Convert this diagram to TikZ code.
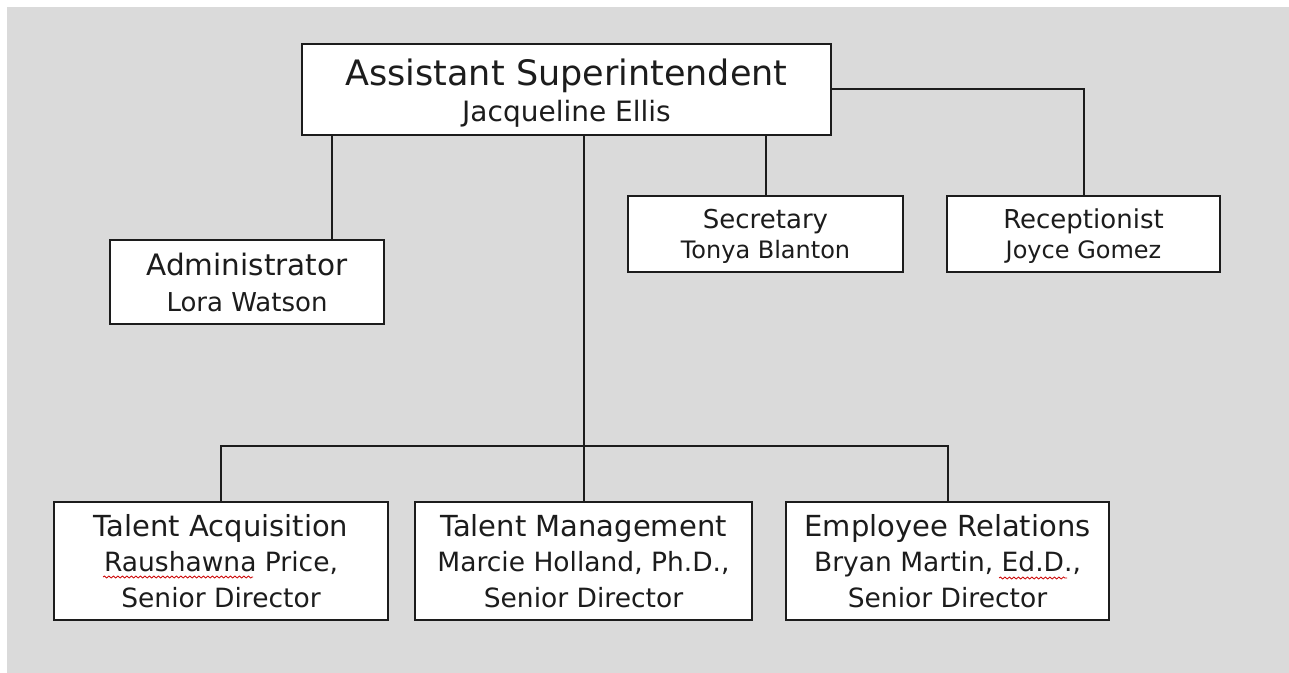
\documentclass[tikz,border=0pt]{standalone}
\usepackage{fontspec}
\setmainfont{DejaVu Sans}
\usetikzlibrary{positioning,decorations.pathmorphing}
\definecolor{bgray}{RGB}{218,218,218}
\definecolor{ink}{RGB}{28,28,28}
\newcommand{\fs}[2]{\fontsize{#1bp}{#2bp}\selectfont}
\tikzset{
    pbox/.style={rectangle, draw=ink, line width=1.8bp, fill=white, text=ink, align=center, inner sep=0},
    link/.style={draw=ink, line width=2bp},
    typo/.style={draw=red!80!black, line width=0.8bp, decorate, decoration={snake, amplitude=1bp, segment length=4.5bp}},
  }

\begin{document}
\begin{tikzpicture}[x=1bp, y=-1bp]
  \fill[white] (0,0) rectangle (1289,673);
  \fill[bgray] (7,7) rectangle (1289,673);

  \node (sup) [pbox, minimum width=529bp, minimum height=91bp, font=\fs{28}{36}] at (566.5,89.5)
    {{\fs{35}{36}\rule{0pt}{34bp}Assistant Superintendent}\\Jacqueline Ellis};
  \node (adm) [pbox, minimum width=274bp, minimum height=84bp, font=\fs{26}{36}] at (247,282)
    {{\fs{29.5}{36}Administrator}\\Lora Watson};
  \node (sec) [pbox, minimum width=275bp, minimum height=76bp, font=\fs{24}{30}] at (765.5,234)
    {{\fs{26}{30}\rule{0pt}{24bp}Secretary}\\Tonya Blanton};
  \node (rec) [pbox, minimum width=273bp, minimum height=76bp, font=\fs{24}{30}] at (1083.5,234)
    {{\fs{26}{30}\rule{0pt}{24bp}Receptionist}\\Joyce Gomez};

  \node (ta) [pbox, minimum width=334bp, minimum height=118bp, font=\fs{26.5}{35.5}] at (221,561)
    {{\fs{29}{35.5}Talent Acquisition}\\Raushawna Price,\\Senior Director};
  \node (tm) [pbox, minimum width=337bp, minimum height=118bp, font=\fs{26.5}{35.5}] at (583.5,561)
    {{\fs{29}{35.5}Talent Management}\\Marcie Holland, Ph.D.,\\Senior Director};
  \node (er) [pbox, minimum width=323bp, minimum height=118bp, font=\fs{26.5}{35.5}] at (947.5,561)
    {{\fs{29}{35.5}Employee Relations}\\Bryan Martin, Ed.D.,\\Senior Director};

  \coordinate (admtop) at (332,240);
  \coordinate (bus) at (583.5,446);
  \draw[link] (admtop) -- (admtop |- sup.south);
  \draw[link] (sec.north) -- (sec.north |- sup.south);
  \draw[link] (sup.east) -| (rec.north);
  \draw[link] (tm.north) -- (tm.north |- sup.south);
  \draw[link] (ta.north) |- (bus) -| (er.north);

  % spell-check marks
  \draw[typo] (103,577) -- (253,577);
  \draw[typo] (999,578) -- (1067,578);
\end{tikzpicture}
\end{document}
